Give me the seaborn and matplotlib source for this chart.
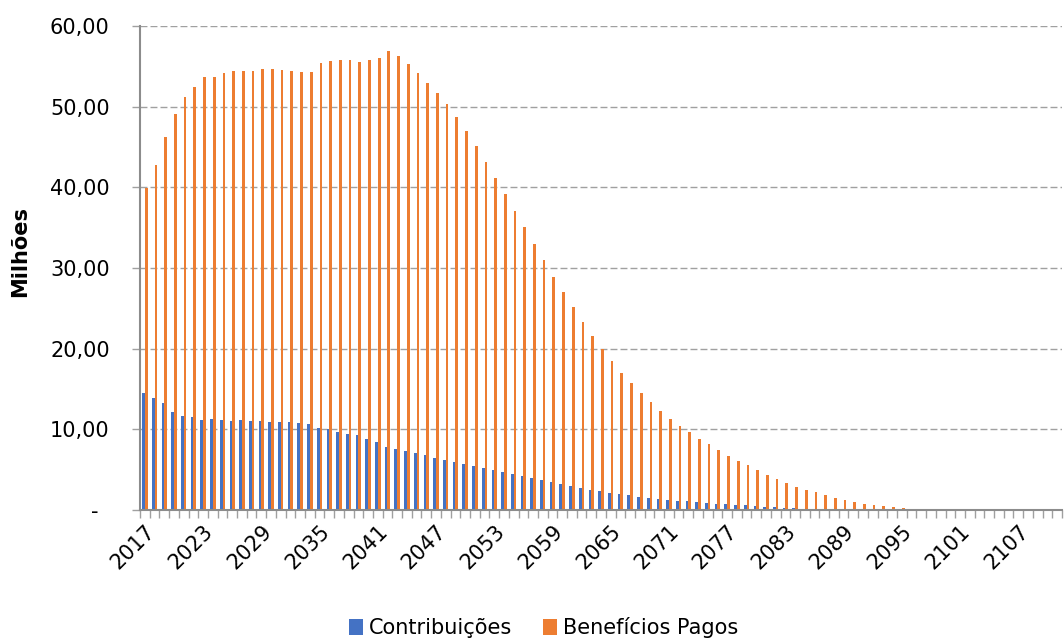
import matplotlib
matplotlib.use("Agg")
import matplotlib.pyplot as plt
import matplotlib.transforms as mtransforms
import seaborn as sns
import pandas as pd
import numpy as np

# ---------------- data ----------------
years = list(range(2017, 2112))

contribuicoes = [
    14.50, 13.91, 13.29, 12.12, 11.66, 11.50, 11.20, 11.25, 11.16, 11.08,
    11.12, 11.08, 11.00, 10.95, 10.87, 10.87, 10.79, 10.66, 10.20, 10.02,
    9.66, 9.46, 9.25, 8.83, 8.41, 7.83, 7.54, 7.29, 7.04, 6.79,
    6.50, 6.16, 5.95, 5.66, 5.41, 5.16, 4.91, 4.66, 4.41, 4.16,
    3.91, 3.66, 3.41, 3.16, 2.95, 2.75, 2.50, 2.37, 2.16, 2.00,
    1.83, 1.66, 1.54, 1.41, 1.29, 1.16, 1.08, 1.00, 0.91, 0.79,
    0.71, 0.62, 0.58, 0.50, 0.41, 0.37, 0.29, 0.25, 0.17, 0.12,
    0.08, 0.04,
] + [0.0] * 23

beneficios = [
    39.90, 42.77, 46.27, 49.12, 51.27, 52.43, 53.67, 53.75, 54.25, 54.46,
    54.46, 54.46, 54.70, 54.70, 54.58, 54.46, 54.30, 54.33, 55.45, 55.70,
    55.78, 55.78, 55.57, 55.86, 56.07, 56.94, 56.32, 55.33, 54.17, 52.90,
    51.70, 50.30, 48.73, 46.98, 45.12, 43.18, 41.19, 39.17, 37.06, 35.08,
    32.97, 30.94, 28.92, 26.98, 25.12, 23.26, 21.57, 19.95, 18.47, 17.02,
    15.70, 14.46, 13.34, 12.31, 11.32, 10.45, 9.62, 8.84, 8.13, 7.44,
    6.73, 6.11, 5.53, 4.96, 4.38, 3.88, 3.38, 2.89, 2.52, 2.18,
    1.81, 1.52, 1.24, 0.99, 0.78, 0.62, 0.50, 0.37, 0.25, 0.15,
] + [0.0] * 15

series_names = ["Contribuições", "Benefícios Pagos"]
series_colors = ["#4472C4", "#ED7D31"]

y_ticks = [0, 10, 20, 30, 40, 50, 60]
y_tick_labels = ["-", "10,00", "20,00", "30,00", "40,00", "50,00", "60,00"]
label_step = 6
y_label = "Milhões"

# ---------------- table ----------------
n = len(years)
df = pd.DataFrame({
    "Ano": years * 2,
    "Valor": contribuicoes + beneficios,
    "Série": [series_names[0]] * n + [series_names[1]] * n,
})

sns.set_theme(style="white")
plt.rcParams["font.family"] = ["DejaVu Sans"]
plt.rcParams["text.color"] = "black"
plt.rcParams["xtick.labelcolor"] = "black"
plt.rcParams["ytick.labelcolor"] = "black"
plt.rcParams["axes.labelcolor"] = "black"

fig = plt.figure(figsize=(10.64, 6.39), dpi=100)
ax = fig.add_axes([0.1316, 0.202, 0.8665, 0.757])

sns.barplot(
    data=df, x="Ano", y="Valor", hue="Série", order=years,
    hue_order=series_names, palette=series_colors, width=0.56,
    saturation=1, errorbar=None, linewidth=0, ax=ax,
)

ax.set_xlim(-0.5, n - 0.5)
ax.set_ylim(y_ticks[0], y_ticks[-1])

# x ticks: labels every 6 years, tick marks at category boundaries
major_idx = list(range(0, n, label_step))
ax.set_xticks(major_idx)
ax.set_xticklabels([str(years[i]) for i in major_idx], rotation=45,
                   ha="right", va="top", rotation_mode="anchor", fontsize=15,
                   color="black")
ax.set_xticks(np.arange(n + 1) - 0.5, minor=True)
ax.tick_params(axis="x", which="major", length=0, pad=8)
ax.tick_params(axis="x", which="minor", length=5.5, width=1.0,
               color="#A0A0A0", bottom=True)

# y ticks
ax.set_yticks(y_ticks)
ax.set_yticklabels(y_tick_labels, fontsize=15, color="black")
ax.tick_params(axis="y", which="major", length=5.8, width=1.0,
               color="#A0A0A0", pad=16, left=True)
# Excel-style "-" for zero sits a bit further left
zero_lab = ax.yaxis.get_major_ticks()[0].label1
zero_lab.set_transform(zero_lab.get_transform() +
                       mtransforms.ScaledTranslation(-0.11, 0, fig.dpi_scale_trans))

ax.set_xlabel("")
ax.set_ylabel(y_label, fontsize=15, fontweight="bold", color="black")
ax.yaxis.set_label_coords(-0.119, 0.535)

# grid
ax.yaxis.grid(True, linestyle=(0, (5, 2.2)), color="#A0A0A0", linewidth=1.0)
ax.xaxis.grid(False)
ax.set_axisbelow(True)

for side in ["top", "right"]:
    ax.spines[side].set_visible(False)
for side in ["left", "bottom"]:
    ax.spines[side].set_color("#8C8C8C")
    ax.spines[side].set_linewidth(1.5)

# legend
handles, labels = ax.get_legend_handles_labels()
if ax.get_legend() is not None:
    ax.get_legend().remove()
leg = fig.legend(handles, labels, loc="lower center",
                 bbox_to_anchor=(0.511, -0.028),
                 ncol=2, frameon=False, fontsize=15, handlelength=0.65,
                 handleheight=0.75, handletextpad=0.3, columnspacing=1.5)
for t in leg.get_texts():
    t.set_color("black")

fig.savefig("out.png", dpi=100)
